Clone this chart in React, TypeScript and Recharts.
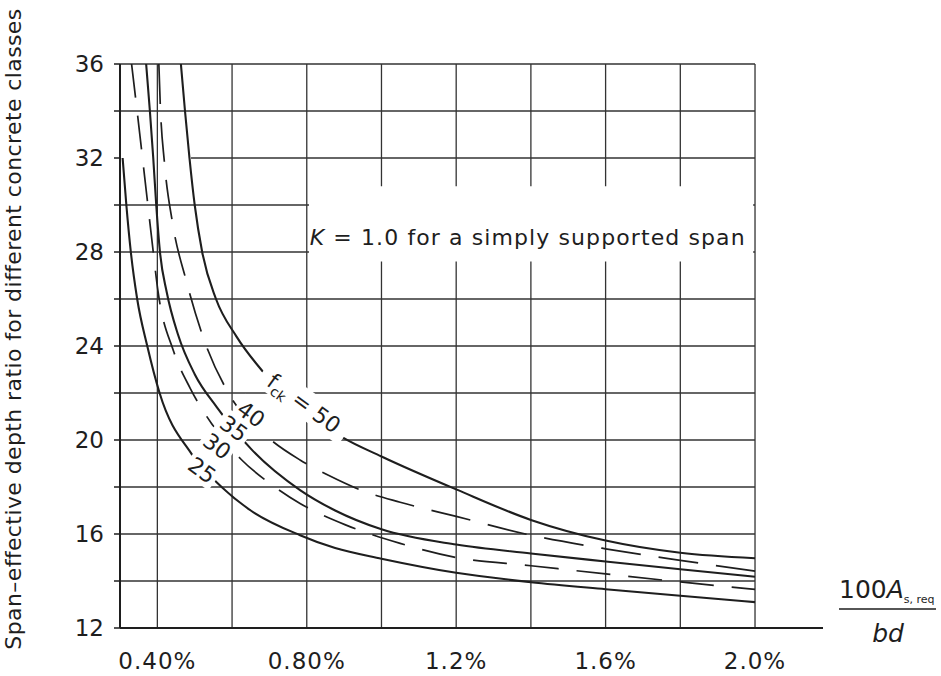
import React from 'react';
import { LineChart, Line, XAxis, YAxis, ReferenceLine, ReferenceArea, ReferenceDot } from 'recharts';

// Curves: [reinforcement ratio 100As/bd (%), span/effective depth ratio]
const fck25: [number, number][] = [
  [0.307, 32], [0.317, 30], [0.329, 28], [0.346, 26], [0.373, 24], [0.406, 22],
  [0.492, 19.4], [0.572, 18.0], [0.65, 17.0], [0.782, 15.95], [0.876, 15.4], [1.0, 14.95],
  [1.2, 14.35], [1.4, 13.95], [1.6, 13.65], [1.8, 13.37], [2.0, 13.1],
];
const fck30: [number, number][] = [
  [0.331, 36], [0.348, 33.7], [0.366, 31.2], [0.384, 28.7], [0.402, 26.3], [0.443, 23.8],
  [0.488, 22.2], [0.545, 20.7], [0.626, 19.15], [0.706, 18.1], [0.782, 17.3], [0.902, 16.4],
  [1.05, 15.6], [1.2, 15.0], [1.4, 14.65], [1.6, 14.3], [1.8, 13.96], [2.0, 13.64],
];
const fck35: [number, number][] = [
  [0.37, 36], [0.38, 34], [0.389, 32], [0.397, 30], [0.407, 28], [0.425, 26.3], [0.455, 24.5],
  [0.5, 22.8], [0.559, 21.4], [0.652, 19.6], [0.782, 17.87], [0.876, 17.0], [1.0, 16.2],
  [1.2, 15.55], [1.4, 15.17], [1.6, 14.83], [1.8, 14.5], [2.0, 14.18],
];
const fck40: [number, number][] = [
  [0.404, 36], [0.408, 34.2], [0.419, 31.8], [0.441, 29.2], [0.477, 26.8], [0.522, 24.4],
  [0.594, 21.9], [0.697, 20.1], [0.782, 19.15], [0.858, 18.5], [0.956, 17.8], [1.05, 17.35],
  [1.2, 16.75], [1.4, 15.95], [1.6, 15.37], [1.8, 14.88], [2.0, 14.42],
];
const fck50: [number, number][] = [
  [0.463, 36], [0.474, 34], [0.486, 32], [0.5, 30], [0.52, 28], [0.557, 26], [0.612, 24.4],
  [0.683, 22.9], [0.897, 20.1], [1.0, 19.3], [1.2, 17.9], [1.4, 16.6], [1.6, 15.72],
  [1.8, 15.2], [2.0, 14.97],
];

const xTicks = [0.4, 0.8, 1.2, 1.6, 2.0];
const xTickLabels = ['0.40%', '0.80%', '1.2%', '1.6%', '2.0%'];
const yTicks = [12, 14, 16, 18, 20, 22, 24, 26, 28, 30, 32, 34, 36];
const yLabelTicks = [12, 16, 20, 24, 28, 32, 36];
const gridX = [0.4, 0.6, 0.8, 1.0, 1.2, 1.4, 1.6, 1.8, 2.0];
const gridYFull = [14, 16, 18, 20, 22, 24, 26, 28, 30, 34, 36];
const gridYPartial = [32];

const curveLabels = [
  { text: '40', r: 0.651, v: 21.1, w: 34 },
  { text: '35', r: 0.605, v: 20.5, w: 34 },
  { text: '30', r: 0.56, v: 19.74, w: 34 },
  { text: '25', r: 0.52, v: 18.72, w: 34 },
];
const fckLabel = { r: 0.793, v: 21.57 };
const noteText = { r: 0.808, v: 28.3 };

const FONT = '"DejaVu Sans", sans-serif';
const INK = '#1e1e1e';

const toPts = (a: [number, number][]) => a.map(([r, v]) => ({ r, v }));

const XTick = (props: any) => {
  const { x, y, payload } = props;
  const i = xTicks.indexOf(payload.value);
  return (
    <text x={x} y={y} dy={41} textAnchor="middle" fontSize={23} fontFamily={FONT} fill={INK} letterSpacing={1}>
      {xTickLabels[i]}
    </text>
  );
};

const YTick = (props: any) => {
  const { x, y, payload } = props;
  if (!yLabelTicks.includes(payload.value)) return <g />;
  return (
    <text x={x} y={y} dy="0.36em" textAnchor="end" fontSize={23} fontFamily={FONT} fill={INK}>
      {payload.value}
    </text>
  );
};

const YLabel = () => (
  <text x={21} y={329} transform="rotate(-90 21 329)" textAnchor="middle" fontSize={22} fontFamily={FONT} fill={INK} letterSpacing={0.4}>
    Span–effective depth ratio for different concrete classes
  </text>
);

const FracLabel = () => (
  <g fontFamily={FONT} fill={INK}>
    <text x={839} y={598} fontSize={25}>
      <tspan>100</tspan>
      <tspan fontStyle="italic">A</tspan>
      <tspan fontSize={11} dy={5}>s, req</tspan>
    </text>
    <line x1={839} x2={936} y1={609} y2={609} stroke={INK} strokeWidth={1.5} />
    <text x={888} y={642} fontSize={25} fontStyle="italic" textAnchor="middle">bd</text>
  </g>
);

const NumLabel = (props: any) => {
  const { cx, cy, text, w } = props;
  return (
    <g transform={`translate(${cx},${cy}) rotate(36)`}>
      <rect x={-w / 2} y={-13} width={w} height={26} fill="#fff" />
      <text x={0} y={0} dy="0.36em" textAnchor="middle" fontSize={22} fontFamily={FONT} fill={INK}>
        {text}
      </text>
    </g>
  );
};

const FckLabel = (props: any) => {
  const { cx, cy } = props;
  return (
    <g transform={`translate(${cx},${cy}) rotate(36)`}>
      <rect x={-52} y={-14} width={104} height={28} fill="#fff" />
      <text x={0} y={0} dy="0.36em" textAnchor="middle" fontSize={22} fontFamily={FONT} fill={INK}>
        <tspan>f</tspan>
        <tspan fontSize={14} dy={5}>ck</tspan>
        <tspan dy={-5}> = 50</tspan>
      </text>
    </g>
  );
};

const NoteLabel = (props: any) => {
  const { cx, cy } = props;
  return (
    <text x={cx} y={cy} fontSize={22} fontFamily={FONT} fill={INK} letterSpacing={1.1}>
      <tspan fontStyle="italic">K</tspan>
      <tspan> = 1.0 for a simply supported span</tspan>
    </text>
  );
};

export default function App() {
  const lineProps = {
    dataKey: 'v',
    type: 'monotone' as const,
    dot: false,
    activeDot: false,
    isAnimationActive: false,
    stroke: INK,
  };
  return (
    <div style={{ position: 'absolute', left: 0, top: 0, background: '#fff' }}>
      <LineChart width={941} height={676} margin={{ top: 64, right: 118, bottom: 0, left: 60 }}>
        <XAxis
          dataKey="r"
          type="number"
          domain={[0.3, 2.182]}
          ticks={xTicks}
          interval={0}
          tick={<XTick />}
          tickLine={false}
          tickSize={0}
          tickMargin={0}
          axisLine={{ stroke: INK, strokeWidth: 2 }}
          height={48}
          allowDataOverflow
          label={<FracLabel />}
        />
        <YAxis
          type="number"
          domain={[12, 36]}
          ticks={yTicks}
          interval={0}
          tick={<YTick />}
          tickLine={{ stroke: INK, strokeWidth: 1.5 }}
          tickSize={6}
          tickMargin={10}
          axisLine={{ stroke: INK, strokeWidth: 2 }}
          width={60}
          allowDataOverflow
          label={<YLabel />}
        />
        {gridYFull.map((g) => (
          <ReferenceLine key={'h' + g} segment={[{ x: 0.3, y: g }, { x: 2.0, y: g }]} stroke="#333" strokeWidth={1.3} zIndex={-90} />
        ))}
        {gridYPartial.map((g) => (
          <ReferenceLine key={'hp' + g} segment={[{ x: 0.49, y: g }, { x: 2.0, y: g }]} stroke="#333" strokeWidth={1.3} zIndex={-90} />
        ))}
        {gridX.map((g) => (
          <ReferenceLine key={'v' + g} segment={[{ x: g, y: 12 }, { x: g, y: 36 }]} stroke="#333" strokeWidth={1.3} zIndex={-90} />
        ))}
        <ReferenceArea x1={0.806} x2={1.995} y1={27.6} y2={30.8} fill="#fff" fillOpacity={1} stroke="none" zIndex={-80} />
        <Line {...lineProps} data={toPts(fck25)} strokeWidth={2.1} />
        <Line {...lineProps} data={toPts(fck30)} strokeWidth={1.7} strokeDasharray="34 18" />
        <Line {...lineProps} data={toPts(fck35)} strokeWidth={2.1} />
        <Line {...lineProps} data={toPts(fck40)} strokeWidth={1.7} strokeDasharray="40 18" />
        <Line {...lineProps} data={toPts(fck50)} strokeWidth={2.1} />
        {curveLabels.map((l) => (
          <ReferenceDot
            key={l.text}
            x={l.r}
            y={l.v}
            r={0}
            zIndex={1500}
            shape={(p: any) => <NumLabel cx={p.cx} cy={p.cy} text={l.text} w={l.w} />}
          />
        ))}
        <ReferenceDot x={fckLabel.r} y={fckLabel.v} r={0} zIndex={1500} shape={(p: any) => <FckLabel cx={p.cx} cy={p.cy} />} />
        <ReferenceDot x={noteText.r} y={noteText.v} r={0} zIndex={1500} shape={(p: any) => <NoteLabel cx={p.cx} cy={p.cy} />} />
      </LineChart>
    </div>
  );
}
